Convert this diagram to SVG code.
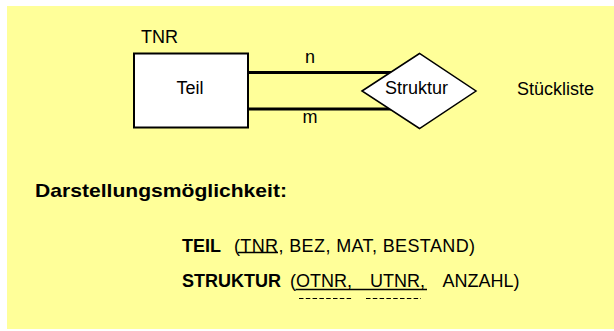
<svg xmlns="http://www.w3.org/2000/svg" width="614" height="331" viewBox="0 0 614 331">
  <style>
    text { font-family: "Liberation Sans", Arial, sans-serif; fill: #000; }
    .reg { font-size: 18px; }
    .bold { font-size: 18px; font-weight: bold; }
    .head { font-size: 19px; font-weight: bold; }
    .shape { fill: #fff; stroke: #000; }
    .rel { stroke: #000; stroke-width: 3; fill: none; }
    .ul { stroke: #000; stroke-width: 1.5; fill: none; }
    .dash { stroke: #000; stroke-width: 1; stroke-dasharray: 4.5 2.3; fill: none; }
  </style>
  <rect x="0" y="0" width="614" height="331" fill="#fff"/>
  <rect x="7" y="6" width="607" height="323" fill="#ffff99"/>

  <!-- connectors between entity and relationship -->
  <g id="connectors">
    <line class="rel" x1="248" y1="72.5" x2="391" y2="72.5"/>
    <line class="rel" x1="248" y1="109" x2="391" y2="109"/>
    <text class="reg" x="310" y="63" text-anchor="middle">n</text>
    <text class="reg" x="310" y="123" text-anchor="middle">m</text>
  </g>

  <g id="teil">
    <text class="reg" x="141" y="43">TNR</text>
    <rect class="shape" x="134" y="53.5" width="114" height="74" stroke-width="2"/>
    <text class="reg" x="190" y="94" text-anchor="middle">Teil</text>
  </g>

  <g id="struktur">
    <polygon class="shape" stroke-width="1.5" points="362,91 419.5,53.5 476,91 419.5,128.5"/>
    <text class="reg" x="416.5" y="94" text-anchor="middle">Struktur</text>
  </g>

  <g id="stueckliste">
    <text class="reg" x="517" y="95">Stückliste</text>
  </g>

  <g id="darstellung">
    <text class="head" x="35" y="197" textLength="252" lengthAdjust="spacingAndGlyphs">Darstellungsmöglichkeit:</text>

    <text class="bold" x="182" y="252">TEIL</text>
    <text class="reg" x="234" y="252" textLength="241">(TNR, BEZ, MAT, BESTAND)</text>
    <line class="ul" x1="238" y1="252.5" x2="278" y2="252.5"/>

    <text class="bold" x="182" y="287">STRUKTUR</text>
    <text class="reg" y="287"><tspan x="290">(OTNR,</tspan><tspan x="370">UTNR,</tspan><tspan x="442.5">ANZAHL)</tspan></text>
    <line class="ul" x1="295.5" y1="289.5" x2="427" y2="289.5"/>
    <line class="dash" x1="299" y1="298.5" x2="353" y2="298.5"/>
    <line class="dash" x1="366" y1="298.5" x2="421" y2="298.5"/>
  </g>
</svg>
